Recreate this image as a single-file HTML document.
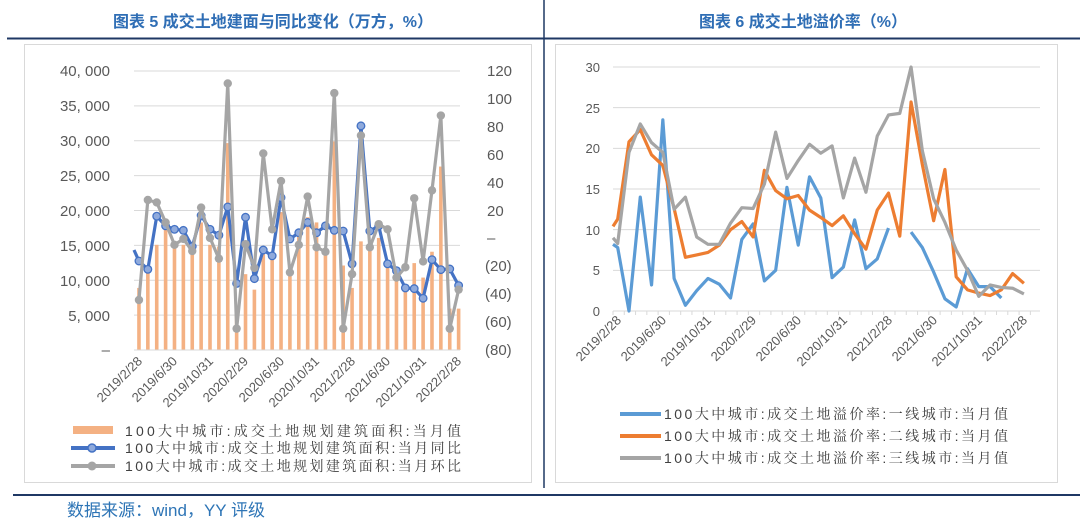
<!DOCTYPE html>
<html><head><meta charset="utf-8"><style>
html,body{margin:0;padding:0;background:#fff;}
body{width:1080px;height:522px;overflow:hidden;position:relative;}
svg{position:absolute;left:0;top:0;}
</style></head><body>
<svg id="s" width="1080" height="522" xmlns="http://www.w3.org/2000/svg" font-family="Liberation Sans, sans-serif">
<rect width="1080" height="522" fill="#fff"/>
<text x="273" y="27" text-anchor="middle" font-size="16" font-weight="bold" fill="#2f6eb5" font-family="Liberation Sans, Noto Sans CJK SC, sans-serif">图表 5 成交土地建面与同比变化（万方，%）</text>
<text x="803" y="27" text-anchor="middle" font-size="16" font-weight="bold" fill="#2f6eb5" font-family="Liberation Sans, Noto Sans CJK SC, sans-serif">图表 6 成交土地溢价率（%）</text>
<line x1="7" y1="38.5" x2="1080" y2="38.5" stroke="#1f3864" stroke-width="2"/>
<line x1="544" y1="0" x2="544" y2="488" stroke="#1f3864" stroke-width="1.5"/>
<rect x="24.5" y="44.5" width="507" height="438" fill="none" stroke="#d9d9d9"/>
<rect x="555.5" y="44.5" width="502" height="438" fill="none" stroke="#d9d9d9"/>
<line x1="13" y1="495" x2="1080" y2="495" stroke="#1f3864" stroke-width="2"/>
<text x="67" y="516" font-size="17" fill="#2e75b6" font-family="Liberation Sans, Noto Sans CJK SC, sans-serif">数据来源：wind，YY 评级</text>
<g id="L"></g><g id="R"></g>
<g font-size="15" fill="#595959" text-anchor="end">
<text x="110" y="76">40, 000</text><text x="110" y="111">35, 000</text><text x="110" y="146">30, 000</text><text x="110" y="181">25, 000</text><text x="110" y="216">20, 000</text><text x="110" y="251">15, 000</text><text x="110" y="286">10, 000</text><text x="110" y="321">5, 000</text><text x="110" y="355">–</text>
</g>
<g font-size="15" fill="#595959" text-anchor="start">
<text x="487" y="76">120</text><text x="487" y="104">100</text><text x="487" y="132">80</text><text x="487" y="160">60</text><text x="487" y="188">40</text><text x="487" y="216">20</text><text x="487" y="243">–</text><text x="485" y="271">(20)</text><text x="485" y="299">(40)</text><text x="485" y="327">(60)</text><text x="485" y="355">(80)</text>
</g>
<g font-size="13" fill="#595959" text-anchor="end">
<text transform="translate(143,362) rotate(-45)">2019/2/28</text>
<text transform="translate(178,362) rotate(-45)">2019/6/30</text>
<text transform="translate(214,362) rotate(-45)">2019/10/31</text>
<text transform="translate(249,362) rotate(-45)">2020/2/29</text>
<text transform="translate(285,362) rotate(-45)">2020/6/30</text>
<text transform="translate(320,362) rotate(-45)">2020/10/31</text>
<text transform="translate(356,362) rotate(-45)">2021/2/28</text>
<text transform="translate(391,362) rotate(-45)">2021/6/30</text>
<text transform="translate(427,362) rotate(-45)">2021/10/31</text>
<text transform="translate(462,362) rotate(-45)">2022/2/28</text>
</g>
<g font-size="13" fill="#595959" text-anchor="end">
<text x="600" y="72">30</text><text x="600" y="113">25</text><text x="600" y="153">20</text><text x="600" y="194">15</text><text x="600" y="235">10</text><text x="600" y="275">5</text><text x="600" y="316">0</text>
</g>
<g font-size="13" fill="#595959" text-anchor="end">
<text transform="translate(622,321) rotate(-45)">2019/2/28</text>
<text transform="translate(667,321) rotate(-45)">2019/6/30</text>
<text transform="translate(712,321) rotate(-45)">2019/10/31</text>
<text transform="translate(757,321) rotate(-45)">2020/2/29</text>
<text transform="translate(802,321) rotate(-45)">2020/6/30</text>
<text transform="translate(848,321) rotate(-45)">2020/10/31</text>
<text transform="translate(893,321) rotate(-45)">2021/2/28</text>
<text transform="translate(938,321) rotate(-45)">2021/6/30</text>
<text transform="translate(983,321) rotate(-45)">2021/10/31</text>
<text transform="translate(1028,321) rotate(-45)">2022/2/28</text>
</g>
<g font-size="14" fill="#404040" font-family="Liberation Sans, Noto Serif CJK SC, serif">
<rect x="73" y="426" width="40" height="8" fill="#f4b183"/>
<text x="125" y="436" textLength="336" lengthAdjust="spacing">100大中城市:成交土地规划建筑面积:当月值</text>
<line x1="71" y1="448" x2="115" y2="448" stroke="#4472c4" stroke-width="4"/><circle cx="92" cy="448" r="4" fill="#8faadc" stroke="#4472c4" stroke-width="1.5"/>
<text x="125" y="453" textLength="336" lengthAdjust="spacing">100大中城市:成交土地规划建筑面积:当月同比</text>
<line x1="71" y1="466" x2="115" y2="466" stroke="#a5a5a5" stroke-width="4"/><circle cx="92" cy="466" r="4.5" fill="#a5a5a5"/>
<text x="125" y="471" textLength="336" lengthAdjust="spacing">100大中城市:成交土地规划建筑面积:当月环比</text>
<line x1="620" y1="414" x2="661" y2="414" stroke="#5b9bd5" stroke-width="4"/>
<text x="664" y="419" textLength="344" lengthAdjust="spacing">100大中城市:成交土地溢价率:一线城市:当月值</text>
<line x1="620" y1="436" x2="661" y2="436" stroke="#ed7d31" stroke-width="4"/>
<text x="664" y="441" textLength="344" lengthAdjust="spacing">100大中城市:成交土地溢价率:二线城市:当月值</text>
<line x1="620" y1="458" x2="661" y2="458" stroke="#a5a5a5" stroke-width="4"/>
<text x="664" y="463" textLength="344" lengthAdjust="spacing">100大中城市:成交土地溢价率:三线城市:当月值</text>
</g>
</svg>
<script>
var NS="http://www.w3.org/2000/svg";
function el(p,t,a){var e=document.createElementNS(NS,t);for(var k in a)e.setAttribute(k,a[k]);p.appendChild(e);return e;}
var L=document.getElementById("L"),R=document.getElementById("R");
for(var i=0;i<9;i++){var y=71+i*34.875;el(L,"line",{x1:134,x2:460,y1:y,y2:y,stroke:"#d9d9d9","stroke-width":1});}
var bars=[690,630,565,505,570,565,570,500,565,570,270,760,650,695,590,600,470,630,540,485,500,580,265,625,690,555,565,545,625,640,700,618,660,585,338,750,750];
var yoy=[612,636,482,510,520,523,570,480,520,537,455,677,485,663,580,597,428,548,530,500,530,510,523,525,620,220,525,510,620,640,690,692,720,608,637,635,683];
var mom=[725,435,442,500,565,548,583,457,545,605,97,808,563,632,300,520,380,645,565,425,572,585,125,808,650,248,572,505,520,660,630,430,613,407,190,808,695];
function X(i){return (403+25.75*i)/2.9;}function Y(z){return 50+z/2.9;}
bars.forEach(function(b,i){el(L,"rect",{x:X(i)-1.8,y:Y(b),width:3.6,height:350-Y(b),fill:"#f4b183"});});
var p1=[[134,Y(580)]],p2=[];
yoy.forEach(function(v,i){p1.push([X(i),Y(v)]);});mom.forEach(function(v,i){p2.push([X(i),Y(v)]);});
el(L,"polyline",{points:p1.join(" "),fill:"none",stroke:"#4472c4","stroke-width":3.2,"stroke-linejoin":"round"});
p1.slice(1).forEach(function(p){el(L,"circle",{cx:p[0],cy:p[1],r:3.8,fill:"#8faadc",stroke:"#4472c4","stroke-width":1.3});});
el(L,"polyline",{points:p2.join(" "),fill:"none",stroke:"#a5a5a5","stroke-width":3.2,"stroke-linejoin":"round"});
p2.forEach(function(p){el(L,"circle",{cx:p[0],cy:p[1],r:4.2,fill:"#a5a5a5"});});
el(L,"line",{x1:134,x2:460,y1:350,y2:350,stroke:"#d9d9d9","stroke-width":1});
for(var i=1;i<=6;i++){var y=311-i*5*8.133;el(R,"line",{x1:613,x2:1040,y1:y,y2:y,stroke:"#d9d9d9","stroke-width":1});}
el(R,"line",{x1:613,x2:1040,y1:311,y2:311,stroke:"#d9d9d9","stroke-width":1});
for(var i=0;i<39;i++){var x=613+i*11.28;if(x>1041)break;el(R,"line",{x1:x,x2:x,y1:311,y2:315,stroke:"#d9d9d9","stroke-width":1});}
function RX(k){return 545+(213+33.06*k)/2.93;}function RY(v){return 311-v*8.133;}
var blue=[7.8,0,14,3.2,23.5,4,0.7,2.5,4,3.3,1.6,8.8,10.7,3.7,5,15.2,8.1,16.5,13.9,4.1,5.4,11.2,5.2,6.4,10.2,null,9.7,7.8,4.8,1.5,0.5,5.2,3,3,1.6];
var org=[11.3,20.8,22.3,19.2,17.9,12.6,6.6,6.9,7.2,8.1,10,11,9.1,17.3,14.8,13.8,14.2,12.4,11.5,10.5,11.7,9.5,7.6,12.4,14.5,9.2,25.7,18,11.1,17.4,4.2,2.6,2.2,1.9,2.6,4.6,3.4];
var gry=[8.3,19.5,23,20.7,19.5,12.5,14,9.1,8.2,8.2,10.8,12.7,12.6,15.6,22,16.3,18.5,20.5,19.4,20.3,13.9,18.8,14.6,21.5,24.1,24.3,30,19.7,13.8,10.9,7.5,5,1.8,3.2,2.9,2.8,2.1];
function line(arr,first,col){var segs=[[[613,RY(first)]]];arr.forEach(function(v,k){if(v===null){segs.push([]);return;}segs[segs.length-1].push([RX(k),RY(v)]);});
segs.forEach(function(s){if(s.length>1)el(R,"polyline",{points:s.join(" "),fill:"none",stroke:col,"stroke-width":3.2,"stroke-linejoin":"round"});});}
line(blue,8.2,"#5b9bd5");line(org,10.4,"#ed7d31");line(gry,9,"#a5a5a5");
</script>
</body></html>
